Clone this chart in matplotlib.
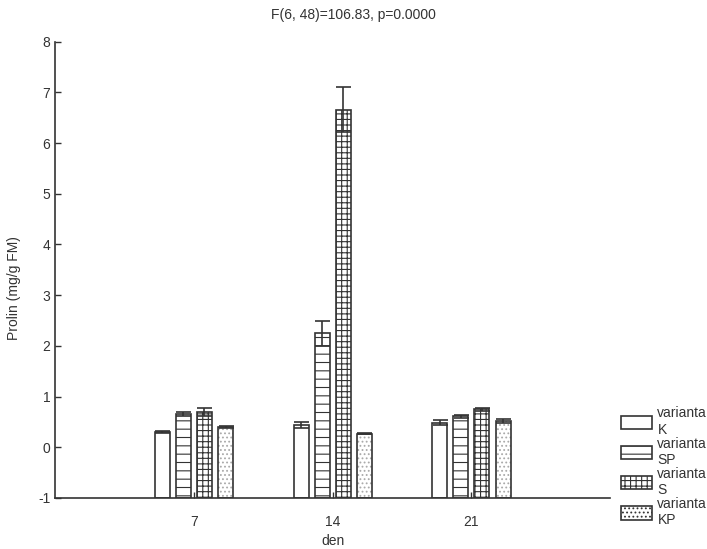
import numpy as np
import matplotlib.pyplot as plt
from matplotlib.patches import Patch

plt.rcParams['font.family'] = ['Liberation Sans', 'DejaVu Sans']
plt.rcParams['axes.unicode_minus'] = False
plt.rcParams['hatch.linewidth'] = 0.8

# days of sampling and variant names
days = ['7', '14', '21']
variants = ['varianta\nK', 'varianta\nSP', 'varianta\nS', 'varianta\nKP']

# proline means and errors per variant (days 7, 14, 21)
means_K = [0.30, 0.43, 0.48]
means_SP = [0.66, 2.25, 0.61]
means_S = [0.70, 6.66, 0.75]
means_KP = [0.39, 0.27, 0.51]
err_K = [0.02, 0.06, 0.05]
err_SP = [0.04, 0.25, 0.03]
err_S = [0.08, 0.44, 0.03]
err_KP = [0.02, 0.01, 0.04]

means = [means_K, means_SP, means_S, means_KP]
errs = [err_K, err_SP, err_S, err_KP]
hatches = ['', '--', '+++', '....']
hatch_colors = ['#333333', '#333333', '#333333', '#aaaaaa']
edge = '#333333'

fig = plt.figure(figsize=(7.07, 5.49), dpi=100)
ax = fig.add_axes([0.078, 0.093, 0.785, 0.831])

x = np.arange(1, len(days) + 1)
width = 0.108
step = 0.152
base = -1
for i, (m, e, h, hc) in enumerate(zip(means, errs, hatches, hatch_colors)):
    pos = x + (i - 1.5) * step
    heights = [v - base for v in m]
    # hatch layer first, then the outline on top
    ax.bar(pos, heights, width, bottom=base, color='white', edgecolor=hc,
           linewidth=0, hatch=h, zorder=2)
    ax.bar(pos, heights, width, bottom=base, fill=False, edgecolor=edge,
           linewidth=1.2, zorder=2.5)
    ax.errorbar(pos, m, yerr=e, fmt='none', ecolor=edge, elinewidth=1.2,
                capsize=5.4, capthick=1.2, zorder=3)

ax.set_xlim(0, 4)
ax.set_ylim(-1, 8)
ax.set_xticks(x)
ax.set_xticklabels(days)
ax.set_yticks(range(-1, 9))
ax.tick_params(direction='in', length=4, labelsize=10, colors='#333333',
               width=1)
ax.tick_params(axis='x', pad=12)
for side in ['top', 'right']:
    ax.spines[side].set_visible(False)
for side in ['left', 'bottom']:
    ax.spines[side].set_color('#333333')
    ax.spines[side].set_linewidth(1.2)

ax.set_xlabel('den', fontsize=10, color='#333333', labelpad=4)
ax.set_ylabel('Prolin (mg/g FM)', fontsize=10, color='#333333', labelpad=10)
ax.yaxis.set_label_coords(-0.062, 0.46)
fig.text(0.5, 0.973, 'F(6, 48)=106.83, p=0.0000', ha='center', va='center',
         fontsize=10, color='#333333')

handles = []
for h, hc in zip(hatches, hatch_colors):
    handles.append(Patch(facecolor='white', edgecolor=edge, hatch=h,
                         linewidth=1.2))
fig.legend(handles, variants, loc='lower left', bbox_to_anchor=(0.865, 0.022),
           frameon=False, fontsize=10, handlelength=2.2, handleheight=1.1,
           handletextpad=0.4, labelspacing=0.0, borderpad=0.2,
           labelcolor='#333333')

fig.savefig('out.png', dpi=100)
